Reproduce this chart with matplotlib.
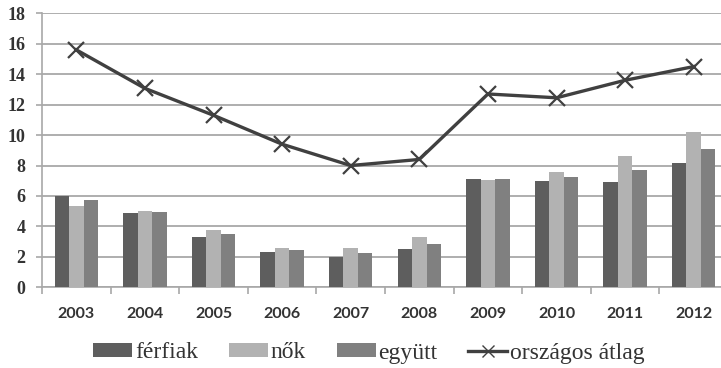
import numpy as np
import matplotlib
matplotlib.use("Agg")
import matplotlib.pyplot as plt
from matplotlib.lines import Line2D

# Adatok
evek = ['2003', '2004', '2005', '2006', '2007', '2008', '2009', '2010', '2011', '2012']
ferfiak = [6.0, 4.9, 3.33, 2.3, 1.97, 2.5, 7.12, 6.98, 6.94, 8.19]
nok = [5.36, 5.0, 3.75, 2.6, 2.6, 3.33, 7.05, 7.55, 8.63, 10.2]
egyutt = [5.74, 4.95, 3.5, 2.43, 2.23, 2.83, 7.12, 7.22, 7.7, 9.1]
orszagos = [15.6, 13.07, 11.3, 9.4, 8.0, 8.4, 12.7, 12.45, 13.6, 14.5]

fig = plt.figure(figsize=(7.21, 3.68), dpi=100)
ax = fig.add_axes([42 / 721, 80.7 / 368, 686 / 721, 274 / 368])

x = np.arange(len(evek))
w = 0.21
b1 = ax.bar(x - w, ferfiak, w, color='#5e5e5e', label='férfiak', zorder=3)
b2 = ax.bar(x, nok, w, color='#b2b2b2', label='nők', zorder=3)
b3 = ax.bar(x + w, egyutt, w, color='#808080', label='együtt', zorder=3)
ax.plot(x, orszagos, color='#404040', lw=2.4, marker='x', markersize=11,
        mew=1.6, zorder=4)

ax.set_xlim(-0.5, len(evek) - 0.5)
ax.set_ylim(0, 18)
ax.set_yticks(range(0, 19, 2))
ax.grid(axis='y', color='#a8a8a8', lw=1.3, zorder=0)

for s in ['top', 'right']:
    ax.spines[s].set_visible(False)
ax.spines['left'].set_color('#a8a8a8')
ax.spines['bottom'].set_color('#a8a8a8')
ax.spines['left'].set_linewidth(1.2)
ax.spines['bottom'].set_linewidth(1.2)

ax.set_xticks(x)
ax.set_xticklabels(evek, family='Lato', fontsize=11.5, fontweight='bold', color='#333333')
ax.set_xticks(np.arange(-0.5, len(evek), 1), minor=True)
ax.tick_params(axis='x', which='major', length=0, pad=14)
ax.tick_params(axis='x', which='minor', length=5, color='#a8a8a8', width=1.2)
ax.tick_params(axis='y', length=4, color='#a8a8a8', width=1.2, pad=8)
for lab in ax.get_yticklabels():
    lab.set_family('Liberation Serif')
    lab.set_fontsize(13)
    lab.set_fontweight('bold')
    lab.set_color('#333333')

# jelmagyarázat: előbb oszlopok, aztán a vonal (kisebb jelölővel)
vonal = Line2D([], [], color='#404040', lw=2.4, marker='x', markersize=8, mew=1.0)
fig.legend([b1, b2, b3, vonal], ['férfiak', 'nők', 'együtt', 'országos átlag'],
           loc='center', bbox_to_anchor=(369 / 721, 1 - 353 / 368), ncol=4,
           frameon=False, prop={'family': 'Liberation Serif', 'size': 17},
           handlelength=1.65, handleheight=0.55, handletextpad=0.12,
           columnspacing=1.3, labelcolor='#333333')

fig.savefig('out.png', dpi=100)
